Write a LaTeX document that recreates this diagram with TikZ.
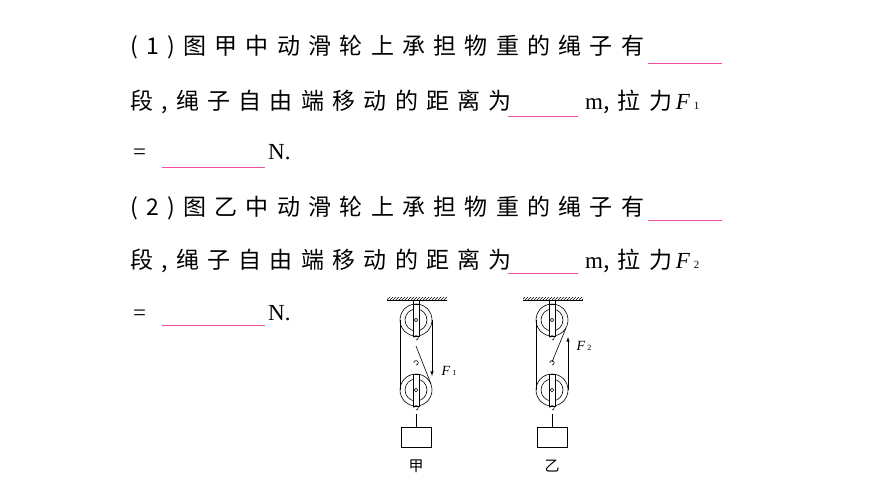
\documentclass[tikz,border=0pt]{standalone}
\usepackage{fontspec}
\setmainfont{Liberation Serif}
\newfontfamily\cjk[LetterSpace=36]{Noto Sans CJK SC}
\usetikzlibrary{patterns}
\begin{document}
\begin{tikzpicture}[x=1pt,y=-1pt,
  txt/.style={anchor=base west,inner sep=0pt,font=\fontsize{23}{23}\selectfont},
  blank/.style={draw=magenta!60!pink,line width=0.8pt},
  rope/.style={line width=0.6pt},
  lbl/.style={inner sep=0pt,font=\fontsize{14}{14}\selectfont}]
\useasboundingbox (0,0) rectangle (870,489);
% text
\node[txt] (l1) at (130,55) {\cjk (1)图甲中动滑轮上承担物重的绳子有};
\draw[blank] (648,63) coordinate (b1a) -- (722,63) coordinate (b1b);
\node[txt] (l2) at (130,110) {\cjk 段,绳子自由端移动的距离为};
\draw[blank] (508,116) coordinate (b2a) -- (578,116) coordinate (b2b);
\node[txt] (l2b) at (585,110) {m\cjk ,拉力\,\normalfont\itshape F\,\upshape\fontsize{11}{11}\selectfont 1};
\node[txt] (l3) at (133,160) {=};
\draw[blank] (162,167) coordinate (b3a) -- (265,167) coordinate (b3b);
\node[txt] (l3b) at (268,160) {N.};
\node[txt] (l4) at (130,215) {\cjk (2)图乙中动滑轮上承担物重的绳子有};
\draw[blank] (648,220) coordinate (b4a) -- (722,220) coordinate (b4b);
\node[txt] (l5) at (130,268) {\cjk 段,绳子自由端移动的距离为};
\draw[blank] (508,273) coordinate (b5a) -- (578,273) coordinate (b5b);
\node[txt] (l5b) at (585,268) {m\cjk ,拉力\,\normalfont\itshape F\,\upshape\fontsize{11}{11}\selectfont 2};
\node[txt] (l6) at (133,320) {=};
\draw[blank] (162,325) coordinate (b6a) -- (265,325) coordinate (b6b);
\node[txt] (l6b) at (268,320) {N.};
% pulley macro
\newcommand\mypulley[2]{%
  \draw[rope] (#1,#2) circle (16);
  \draw[rope] (#1,#2) circle (11);
  \draw[rope,fill=white] (#1-3,#2-16) rectangle (#1+3,#2+16);
  \draw[rope] (#1,#2) circle (1.8);}
\newcommand\myhook[2]{%
  \draw[rope] (#1,#2) arc (90:-180:2.2);}
\foreach \cx/\cap in {416/甲,552/乙}{
  \fill[pattern=north east lines] (\cx-29,297) rectangle (\cx+31,300);
  \draw[rope] (\cx-29,300) -- (\cx+31,300);
  \draw[rope] (\cx-3,300) -- (\cx-3,305) (\cx+3,300)--(\cx+3,305);
  \mypulley{\cx}{320}
  \mypulley{\cx}{390}
  \myhook{\cx}{340}
  \myhook{\cx}{365}
  \myhook{\cx}{410}
  \draw[rope] (\cx,414) -- (\cx,427);
  \draw[rope] (\cx-15,427) rectangle (\cx+15,447);
  \node[font=\cjk\fontsize{15}{15}\selectfont] at (\cx,466) {\cap};
  \draw[rope] (\cx-16,320) -- (\cx-16,390);
}
% jia ropes
\draw[rope] (432,320) -- (432,362);
\draw[rope,-latex] (432,355) -- (432,376);
\draw[rope] (416,346) -- (431,384);
\node[lbl] at (449,371) {\itshape F\,\upshape\fontsize{8}{8}\selectfont 1};
% yi ropes
\draw[rope] (568,390) -- (568,360);
\draw[rope,-latex] (568,360) -- (568,337);
\draw[rope] (552,362) -- (566,328);
\node[lbl] at (584,346) {\itshape F\,\upshape\fontsize{8}{8}\selectfont 2};
\end{tikzpicture}
\end{document}
